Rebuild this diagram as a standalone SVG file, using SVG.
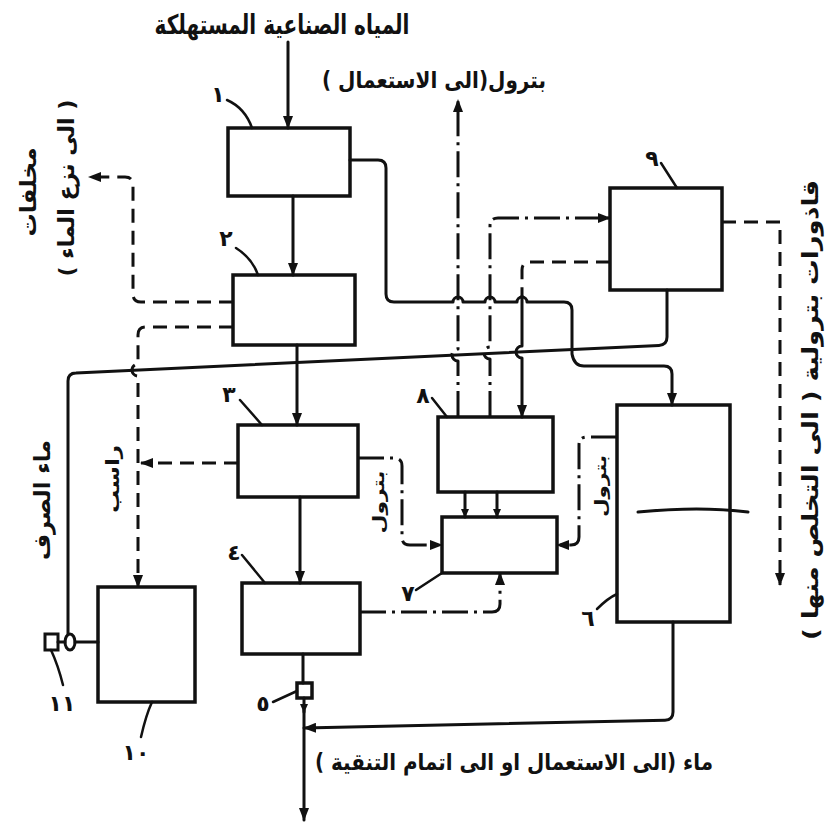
<svg xmlns="http://www.w3.org/2000/svg" width="829" height="830" viewBox="0 0 829 830">
<defs>
<style>
.bx{fill:none;stroke:#111;stroke-width:3.5}
.ln{fill:none;stroke:#111;stroke-width:3;stroke-linejoin:round;stroke-linecap:round}
.th{fill:none;stroke:#111;stroke-width:2.5;stroke-linecap:round}
.ds{stroke-dasharray:14 8;stroke-linecap:butt}
.dd{stroke-dasharray:26 6 3 6;stroke-linecap:butt}
.t{font-family:"DejaVu Sans",sans-serif;fill:#111;font-weight:bold;direction:rtl;unicode-bidi:embed}
.r{dominant-baseline:central}
.n{font-family:"DejaVu Sans",sans-serif;fill:#111;font-size:22px;font-weight:bold;text-anchor:middle}
</style>
<marker id="ar" markerWidth="13" markerHeight="10" refX="12" refY="5" orient="auto" markerUnits="userSpaceOnUse"><path d="M0,0 L13,5 L0,10 Z" fill="#111"/></marker>
<marker id="as" markerWidth="9" markerHeight="8" refX="8" refY="4" orient="auto" markerUnits="userSpaceOnUse"><path d="M0,0 L9,4 L0,8 Z" fill="#111"/></marker>
</defs>
<rect width="829" height="830" fill="#fff"/>

<g id="labels">
<text class="t" x="282" y="34" font-size="27" text-anchor="middle" textLength="255" lengthAdjust="spacingAndGlyphs">المياه الصناعية المستهلكة</text>
<text class="t" x="434" y="88" font-size="23" text-anchor="middle" textLength="224" lengthAdjust="spacingAndGlyphs">بترول(الى الاستعمال )</text>
<text class="t" x="514" y="770" font-size="23" text-anchor="middle" textLength="398" lengthAdjust="spacingAndGlyphs">ماء (الى الاستعمال او الى اتمام التنقية )</text>
<text class="t r" x="810" y="410" font-size="22" text-anchor="middle" textLength="460" lengthAdjust="spacingAndGlyphs" transform="rotate(-90 810 410)">قاذورات بترولية ( الى التخلص منها )</text>
<text class="t r" x="28" y="192" font-size="22" text-anchor="middle" textLength="89" lengthAdjust="spacingAndGlyphs" transform="rotate(-90 28 192)">مخلفات</text>
<text class="t r" x="66" y="188" font-size="22" text-anchor="middle" textLength="177" lengthAdjust="spacingAndGlyphs" transform="rotate(-90 66 188)">( الى نزع الماء )</text>
<text class="t r" x="42" y="500" font-size="22" text-anchor="middle" textLength="120" lengthAdjust="spacingAndGlyphs" transform="rotate(-90 42 500)">ماء الصرف</text>
<text class="t r" x="112" y="479" font-size="18" text-anchor="middle" textLength="68" lengthAdjust="spacingAndGlyphs" transform="rotate(-90 112 479)">راسب</text>
<text class="t r" x="378" y="502" font-size="16" text-anchor="middle" textLength="63" lengthAdjust="spacingAndGlyphs" transform="rotate(-90 378 502)">بترول</text>
<text class="t r" x="600" y="486" font-size="16" text-anchor="middle" textLength="62" lengthAdjust="spacingAndGlyphs" transform="rotate(-90 600 486)">بترول</text>
</g>

<g id="node1"><rect class="bx" x="228" y="128" width="122" height="68"/><text class="n" x="218" y="102">١</text><path class="th" d="M227,100 Q245,108 252,128"/></g>
<g id="node2"><rect class="bx" x="233" y="275" width="122" height="70"/><text class="n" x="226" y="246">٢</text><path class="th" d="M236,248 Q252,258 258,275"/></g>
<g id="node3"><rect class="bx" x="238" y="425" width="120" height="72"/><text class="n" x="229" y="402">٣</text><path class="th" d="M240,400 L262,425"/></g>
<g id="node4"><rect class="bx" x="242" y="583" width="118" height="71"/><text class="n" x="234" y="560">٤</text><path class="th" d="M242,555 L265,583"/></g>
<g id="node5"><rect class="bx" x="297" y="683" width="15" height="15" stroke-width="3" fill="#fff" stroke="#111"/><text class="n" x="263" y="711">٥</text><path class="th" d="M273,702 L297,691"/></g>
<g id="node6"><rect class="bx" x="617" y="405" width="113" height="217"/><path class="ln" d="M638,512 Q700,506 748,512"/><text class="n" x="588" y="626">٦</text><path class="th" d="M597,609 Q608,598 617,594"/></g>
<g id="node7"><rect class="bx" x="442" y="517" width="115" height="56"/><text class="n" x="408" y="601">٧</text><path class="th" d="M416,590 L442,573"/></g>
<g id="node8"><rect class="bx" x="438" y="417" width="115" height="75"/><text class="n" x="423" y="403">٨</text><path class="th" d="M432,398 L447,417"/></g>
<g id="node9"><rect class="bx" x="610" y="188" width="112" height="102"/><text class="n" x="652" y="166">٩</text><path class="th" d="M661,163 L677,188"/></g>
<g id="node10"><rect class="bx" x="98" y="587" width="97" height="115"/><text class="n" x="136" y="760">١٠</text><path class="th" d="M141,737 Q146,715 152,702"/></g>
<g id="node11"><rect x="45" y="634" width="13" height="16" fill="#fff" stroke="#111" stroke-width="3"/><ellipse cx="70" cy="642" rx="5" ry="8" fill="#fff" stroke="#111" stroke-width="3"/><text class="n" x="62" y="711">١١</text><path class="th" d="M63,685 Q58,665 51,650"/></g>

<g id="connectors">
<path class="ln" d="M288,42 V128" marker-end="url(#ar)"/>
<path class="ln" d="M293,196 V275" marker-end="url(#ar)"/>
<path class="ln" d="M297,345 V425" marker-end="url(#ar)"/>
<path class="ln" d="M300,497 V583" marker-end="url(#ar)"/>
<path class="ln" d="M303,654 V683"/>
<path class="ln" d="M304,698 V712" marker-end="url(#as)"/>
<path class="ln" d="M304,710 V820" marker-end="url(#ar)"/>
<path class="ln" d="M350,160 H378 Q386,160 386,168 V294 Q386,302 394,302 H453 A5,5 0 0 1 463,302 H485 A5,5 0 0 1 495,302 H517 A5,5 0 0 1 527,302 H564 Q572,302 572,310 V354 Q574,366 584,366 H664 Q672,366 672,374 V405" marker-end="url(#ar)"/>
<path class="ln" d="M667,290 V337 Q667,345 659,345.4 L76,373 Q68,373 68,381 V634"/>
<path class="ln" d="M58,642 H65 M75,642 H98"/>
<path class="ln ds" d="M233,302 H141 Q133,302 133,294 V185 Q133,177 125,177 H89" marker-end="url(#ar)"/>
<path class="ln ds" d="M233,327 H146 Q138,327 138,335 V364 A6,6 0 0 0 138,376 V587" marker-end="url(#ar)"/>
<path class="ln ds" d="M238,463 H141" marker-end="url(#ar)"/>
<path class="ln dd" d="M458,417 V361 A6,6 0 0 1 458,349 V100" marker-end="url(#ar)"/>
<path class="ln dd" d="M490,417 V359 A6,6 0 0 1 490,347 V226 Q490,218 498,218 H610" marker-end="url(#ar)"/>
<path class="ln ds" d="M610,262 H530 Q522,262 522,270 V296"/>
<path class="ln" d="M522,296 V346 A6,6 0 0 0 522,358 V417" marker-end="url(#ar)"/>
<path class="ln dd" d="M358,458 H394 Q402,458 402,466 V537 Q402,545 410,545 H442" marker-end="url(#ar)"/>
<path class="ln dd" d="M617,437 H587 Q579,437 579,445 V537 Q579,545 571,545 H557" marker-end="url(#ar)"/>
<path class="ln" d="M465,492 V517" marker-end="url(#as)"/>
<path class="ln" d="M497,492 V517" marker-end="url(#as)"/>
<path class="ln dd" d="M360,612 H492 Q500,612 500,604 V573" marker-end="url(#ar)"/>
<path class="ln ds" d="M722,222 H780 V585" marker-end="url(#ar)"/>
<path class="ln" d="M673,622 V712 Q673,720 665,720.2 L304,728" marker-end="url(#ar)"/>
</g>
</svg>
